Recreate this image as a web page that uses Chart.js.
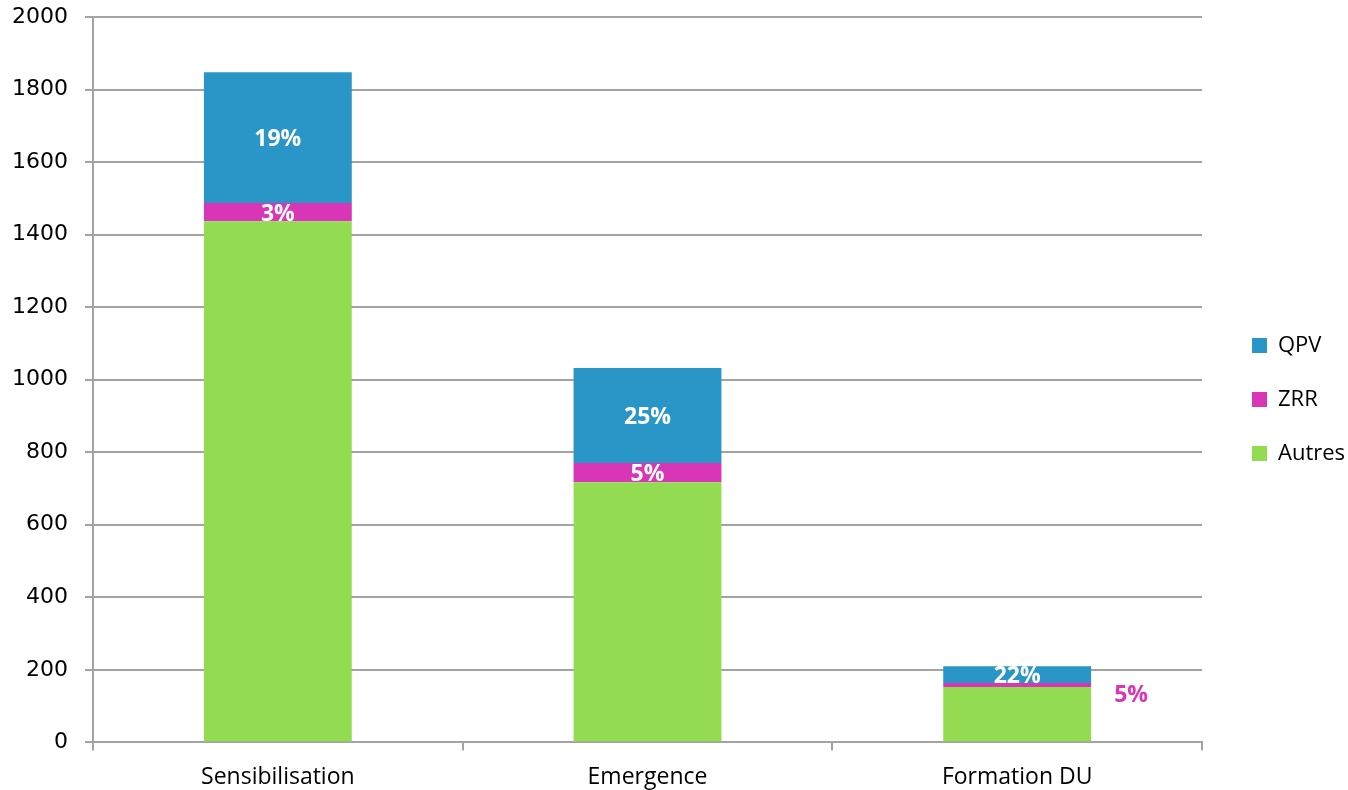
<!DOCTYPE html>
<html>
<head>
<meta charset="utf-8">
<script src="https://cdn.jsdelivr.net/npm/chart.js@4.4.1/dist/chart.umd.min.js"></script>
<style>
    body { margin: 0; background: #fff; }
    #wrap { width: 1348px; height: 790px; }
</style>
</head>
<body>
<div id="wrap"><canvas id="chart" width="1348" height="790"></canvas></div>
<script>
const categories = ['Sensibilisation', 'Emergence', 'Formation DU'];
const autres = [1437, 717, 153];
const zrr = [50, 53, 11];
const qpv = [361, 262, 46];
const qpvLabels = ['19%', '25%', '22%'];
const zrrLabels = ['3%', '5%', '5%'];
const zrrOutside = [false, false, true];
const yTicks = [0, 200, 400, 600, 800, 1000, 1200, 1400, 1600, 1800, 2000];

const gridColor = '#A3A3A3';

// draws the percentage labels on the QPV and ZRR segments
const percentLabels = {
    id: 'percentLabels',
    afterLayout(chart) {
        // legend sits a bit higher than the centre of its box
        if (chart.legend) {
            chart.legend.top -= 11;
            chart.legend.bottom -= 11;
        }
    },
    afterDatasetsDraw(chart) {
        const ctx = chart.ctx;
        ctx.save();
        ctx.font = 'bold 23px "Open Sans"';
        ctx.textAlign = 'center';
        ctx.textBaseline = 'middle';
        chart.data.datasets.forEach((ds, di) => {
            if (!ds.pctLabels) return;
            chart.getDatasetMeta(di).data.forEach((bar, i) => {
                const y = (bar.y + bar.base) / 2 + 2;
                if (ds.outside && ds.outside[i]) {
                    ctx.fillStyle = ds.backgroundColor;
                    ctx.fillText(ds.pctLabels[i], bar.x + bar.width / 2 + 40, y + 9);
                } else {
                    ctx.fillStyle = '#fff';
                    ctx.fillText(ds.pctLabels[i], bar.x, y);
                }
            });
        });
        ctx.restore();
    }
};

new Chart(document.getElementById('chart'), {
    type: 'bar',
    data: {
        labels: categories,
        datasets: [
            { label: 'Autres', data: autres, backgroundColor: '#93DC52' },
            { label: 'ZRR', data: zrr, backgroundColor: '#D836B6', pctLabels: zrrLabels, outside: zrrOutside },
            { label: 'QPV', data: qpv, backgroundColor: '#2A96C7', pctLabels: qpvLabels }
        ]
    },
    options: {
        responsive: false,
        animation: false,
        layout: { padding: { left: 0, top: 17, right: 0, bottom: -14 } },
        datasets: { bar: { barPercentage: 0.4, categoryPercentage: 1 } },
        plugins: {
            legend: {
                position: 'right',
                reverse: true,
                maxWidth: 128,
                labels: {
                    boxWidth: 15, boxHeight: 15, padding: 32,
                    color: '#000',
                    font: { family: '"Open Sans"', size: 22 }
                }
            },
            tooltip: { enabled: false }
        },
        scales: {
            x: {
                stacked: true,
                grid: { offset: true, drawOnChartArea: false, color: gridColor, lineWidth: 2, tickLength: 8 },
                border: { color: gridColor, width: 2 },
                ticks: { color: '#000', padding: 13, font: { family: '"Open Sans"', size: 23 } }
            },
            y: {
                stacked: true,
                min: 0, max: 2000,
                afterBuildTicks: axis => { axis.ticks = yTicks.map(v => ({ value: v })); },
                afterFit: s => { s.width = 93; s.paddingTop = 0; s.paddingBottom = 0; },
                grid: { color: gridColor, lineWidth: 2, tickLength: 8 },
                border: { color: gridColor, width: 2 },
                ticks: { color: '#000', padding: 17, callback: v => String(v), font: { family: '"DejaVu Sans"', size: 22 } }
            },
            // empty right axis, only keeps a gap between the plot and the legend
            gap: {
                position: 'right',
                grid: { display: false },
                border: { display: false },
                ticks: { display: false },
                afterFit: s => { s.width = 18; s.paddingTop = 0; s.paddingBottom = 0; }
            }
        }
    },
    plugins: [percentLabels]
});
</script>
</body>
</html>
